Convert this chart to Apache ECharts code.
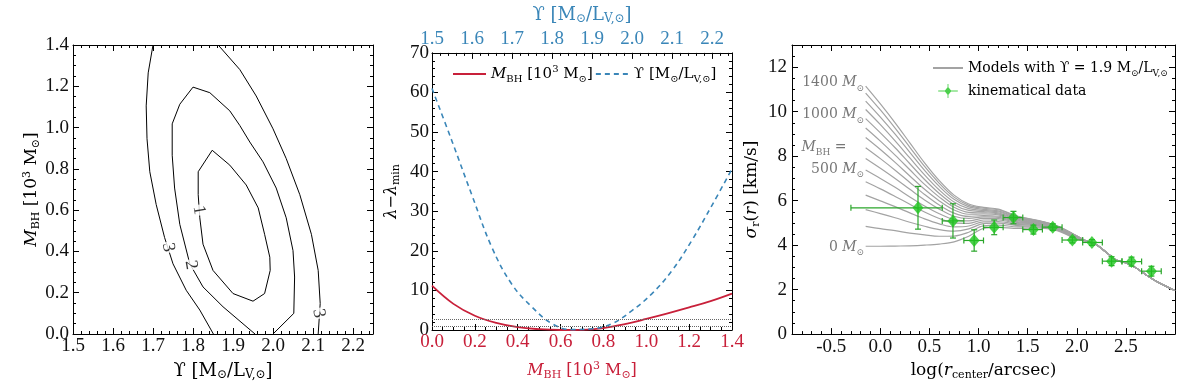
<!DOCTYPE html>
<html><head><meta charset="utf-8">
<script src="https://cdn.jsdelivr.net/npm/echarts@6/dist/echarts.min.js"></script>
<style>html,body{margin:0;padding:0;background:#fff}#c{width:1200px;height:386px}</style>
</head><body><div id="c"></div>
<script>
// ---------- Panel 1: confidence contours ----------
const c1X = [1.848,1.892,1.933,1.963,1.979,1.992,1.993,1.979,1.950,1.900,1.850,1.825,1.817,1.813,1.813,1.848];
const c1Y = [0.890,0.818,0.722,0.611,0.483,0.372,0.308,0.196,0.159,0.196,0.308,0.435,0.563,0.675,0.786,0.890];
const c2X = [1.955,1.875,1.825,1.792,1.767,1.754,1.748,1.748,1.767,1.800,1.842,1.892,1.917,1.942,1.975,2.008,2.033,2.050,2.054,2.052,2.000];
const c2Y = [0.000,0.132,0.228,0.340,0.531,0.707,0.866,1.018,1.113,1.196,1.169,1.081,1.010,0.930,0.834,0.707,0.563,0.404,0.276,0.100,0.000];
const c3aX = [1.700,1.688,1.683,1.685,1.692,1.708,1.729,1.750,1.783,1.817,1.851];
const c3aY = [1.400,1.265,1.105,0.946,0.786,0.627,0.467,0.340,0.212,0.116,0.000];
const c3bX = [1.863,1.917,1.958,2.000,2.033,2.067,2.096,2.113,2.118,2.113];
const c3bY = [1.400,1.281,1.153,0.994,0.850,0.675,0.483,0.308,0.148,0.000];
const clabelText = ['1','2','3','3'];
const clabelX = [1.815,1.795,1.738,2.114];
const clabelY = [0.600,0.335,0.420,0.100];
const p1XTicks = [1.5,1.6,1.7,1.8,1.9,2.0,2.1,2.2];
const p1YTicks = [0,0.2,0.4,0.6,0.8,1.0,1.2,1.4];

// ---------- Panel 2: lambda - lambda_min ----------
const mbhX = [0,0.1,0.2,0.3,0.4,0.5,0.6,0.7,0.8,0.9,1.0,1.1,1.2,1.3,1.4];
const lamMbh = [11.2,6.6,3.6,1.8,0.7,0.2,0.0,0.05,0.5,1.5,2.8,4.2,5.7,7.3,9.2];
const upsX = [1.50,1.55,1.60,1.65,1.70,1.75,1.80,1.85,1.90,1.95,2.00,2.05,2.10,2.15,2.20,2.25];
const lamUps = [61.0,47.7,34.0,20.8,11.5,5.8,1.6,0.1,0.3,1.6,4.9,9.2,15.0,22.7,31.5,40.7];
const refLevels = [1.0,2.71];
const p2XTicks = [0,0.2,0.4,0.6,0.8,1.0,1.2,1.4];
const p2TopTicks = [1.5,1.6,1.7,1.8,1.9,2.0,2.1,2.2];
const p2YTicks = [0,10,20,30,40,50,60,70];

// ---------- Panel 3: dispersion profiles ----------
const modelX = [-0.15,0,0.15,0.3,0.45,0.6,0.75,0.9,1.05,1.2,1.4,1.6,1.8,2.0];
const m0    = [3.95,3.95,3.96,3.97,4.00,4.05,4.15,4.40,4.75,4.80,4.75,4.78,4.65,4.27];
const m100  = [4.84,4.74,4.65,4.54,4.46,4.40,4.41,4.58,4.87,4.90,4.82,4.82,4.68,4.29];
const m200  = [5.60,5.42,5.23,5.03,4.85,4.70,4.63,4.73,4.97,4.99,4.88,4.86,4.70,4.30];
const m300  = [6.25,5.99,5.73,5.45,5.18,4.96,4.82,4.86,5.05,5.06,4.93,4.89,4.72,4.32];
const m400  = [6.85,6.53,6.19,5.84,5.49,5.20,5.00,4.98,5.13,5.13,4.97,4.92,4.74,4.33];
const m500  = [7.38,7.00,6.60,6.17,5.76,5.41,5.15,5.09,5.20,5.19,5.01,4.94,4.76,4.34];
const m600  = [7.90,7.46,7.00,6.51,6.03,5.62,5.30,5.20,5.27,5.25,5.05,4.97,4.77,4.35];
const m700  = [8.38,7.89,7.37,6.82,6.28,5.80,5.44,5.29,5.33,5.30,5.09,4.99,4.79,4.36];
const m800  = [8.84,8.30,7.72,7.11,6.51,5.99,5.58,5.39,5.40,5.36,5.12,5.01,4.80,4.37];
const m900  = [9.27,8.68,8.05,7.39,6.73,6.16,5.70,5.47,5.45,5.41,5.16,5.03,4.81,4.38];
const m1000 = [9.69,9.05,8.38,7.66,6.95,6.32,5.82,5.56,5.51,5.45,5.19,5.05,4.83,4.39];
const m1100 = [10.10,9.42,8.69,7.92,7.16,6.48,5.94,5.64,5.56,5.50,5.22,5.07,4.84,4.40];
const m1200 = [10.48,9.76,8.99,8.17,7.36,6.64,6.06,5.72,5.61,5.54,5.25,5.09,4.85,4.41];
const m1300 = [10.84,10.08,9.26,8.40,7.54,6.78,6.16,5.79,5.66,5.59,5.28,5.11,4.86,4.41];
const m1400 = [11.15,10.35,9.50,8.60,7.70,6.90,6.25,5.85,5.70,5.62,5.30,5.12,4.87,4.42];
const tailX = [2.1,2.2,2.3,2.4,2.5,2.6,2.7,2.8,2.9,3.0];
const tailY = [4.18,4.02,3.68,3.33,3.20,2.98,2.68,2.40,2.17,1.96];
const obsX   = [0.383,0.739,0.955,1.159,1.355,1.558,1.755,1.955,2.154,2.354,2.557,2.760];
const obsY   = [5.68,5.09,4.21,4.80,5.24,4.70,4.81,4.23,4.12,3.28,3.26,2.83];
const obsErr = [0.96,0.77,0.48,0.33,0.28,0.20,0.15,0.13,0.13,0.20,0.20,0.22];
const obsXLo = [-0.30,0.63,0.85,1.05,1.25,1.45,1.65,1.85,2.06,2.26,2.46,2.66];
const obsXHi = [0.63,0.85,1.05,1.25,1.45,1.65,1.85,2.06,2.26,2.46,2.66,2.86];
const annotText = ['1400 {it|M}{sub|⊙}','1000 {it|M}{sub|⊙}','{it|M}{sub|BH} =','500 {it|M}{sub|⊙}','0 {it|M}{sub|⊙}'];
const annotX = [-0.15,-0.15,-0.33,-0.15,-0.15];
const annotY = [11.3,9.86,8.4,7.42,3.9];
const p3XTicks = [-0.5,0,0.5,1.0,1.5,2.0,2.5];
const p3YTicks = [0,2,4,6,8,10,12];

// ---------- helpers ----------
const FONT = 'DejaVu Serif';
const TICKFONT = 'Liberation Serif';
const RED = '#c8203a', BLUE = '#3a86b8', GREEN = '#1fc41f', EGREEN = '#2aa62a';
function rich(size, color) {
  return {
    it: {fontStyle:'italic', fontFamily:FONT, fontSize:size, lineHeight:20, color:color},
    sub: {fontFamily:FONT, fontSize:Math.round(size*0.66), lineHeight:8, verticalAlign:'bottom', color:color},
    sup: {fontFamily:FONT, fontSize:Math.round(size*0.66), lineHeight:9, verticalAlign:'top', color:color}
  };
}
function steps(a, b, s) { const r = []; for (let k = 0; a + k*s <= b + 1e-9; k++) r.push(+(a + k*s).toFixed(4)); return r; }
const xAxes = [], yAxes = [];
function addAxes(list, grid, pos, min, max, majors, minors, lab, name) {
  const base = {type:'value', gridIndex:grid, position:pos, min:min, max:max, splitLine:{show:false}, scale:false};
  const major = Object.assign({}, base, {
    axisLine:{show:true, onZero:false, lineStyle:{color:'#000', width:1}},
    axisTick:{show:true, inside:true, length:6, customValues:majors, lineStyle:{color:'#000', width:1}},
    axisLabel: lab ? {show:true, customValues:majors, fontFamily:TICKFONT, fontSize:19, color:lab.color || '#111',
                      margin: lab.margin, formatter: lab.fmt} : {show:false}
  });
  if (name) Object.assign(major, name);
  list.push(major);
  const idx = list.length - 1;
  list.push(Object.assign({}, base, {
    axisLine:{show:false, onZero:false},
    axisTick:{show:true, inside:true, length:3, customValues:minors, lineStyle:{color:'#000', width:1}},
    axisLabel:{show:false}
  }));
  return idx;
}
const f1 = v => v.toFixed(1);
const f0 = v => String(Math.round(v));
function nameOpt(text, gap, color, size) {
  return {name:text, nameLocation:'middle', nameGap:gap,
    nameTextStyle:{fontFamily:FONT, fontSize:size||16, color:color||'#000', lineHeight:20, rich:rich(size||16, color||'#000')}};
}

// Panel 1 axes
const p1x = addAxes(xAxes, 0, 'bottom', 1.5, 2.25, p1XTicks, steps(1.5,2.25,0.02), {fmt:f1, margin:3},
  nameOpt('ϒ [M{sub|⊙}/L{sub|V,⊙}]', 27, '#000', 18));
addAxes(xAxes, 0, 'top', 1.5, 2.25, p1XTicks, steps(1.5,2.25,0.02), null);
const p1y = addAxes(yAxes, 0, 'left', 0, 1.4, p1YTicks, steps(0,1.4,0.05), {fmt:f1, margin:4},
  nameOpt('{it|M}{sub|BH} [10{sup|3} M{sub|⊙}]', 26, '#000', 17));
addAxes(yAxes, 0, 'right', 0, 1.4, p1YTicks, steps(0,1.4,0.05), null);
// Panel 2 axes
const p2x = addAxes(xAxes, 1, 'bottom', 0, 1.4, p2XTicks, steps(0,1.4,0.05), {fmt:f1, margin:3, color:RED},
  nameOpt('{it|M}{sub|BH} [10{sup|3} M{sub|⊙}]', 31, RED, 16));
const p2t = addAxes(xAxes, 1, 'top', 1.5, 2.25, p2TopTicks, steps(1.5,2.25,0.02), {fmt:f1, margin:4, color:BLUE},
  nameOpt('ϒ [M{sub|⊙}/L{sub|V,⊙}]', 23, BLUE, 18));
const p2y = addAxes(yAxes, 1, 'left', 0, 70, p2YTicks, steps(0,70,2), {fmt:f0, margin:3},
  nameOpt('{it|λ}−{it|λ}{sub|min}', 30));
addAxes(yAxes, 1, 'right', 0, 70, p2YTicks, steps(0,70,2), null);
// Panel 3 axes
const p3x = addAxes(xAxes, 2, 'bottom', -0.9, 3.0, p3XTicks, steps(-0.9,3.0,0.1), {fmt:f1, margin:3},
  nameOpt('log({it|r}{sub|center}/arcsec)', 24, '#000', 17));
addAxes(xAxes, 2, 'top', -0.9, 3.0, p3XTicks, steps(-0.9,3.0,0.1), null);
const p3y = addAxes(yAxes, 2, 'left', 0, 13, p3YTicks, steps(0,13,0.5), {fmt:f0, margin:5},
  nameOpt('{it|σ}{sub|r}({it|r}) [km/s]', 30, '#000', 17));
addAxes(yAxes, 2, 'right', 0, 13, p3YTicks, steps(0,13,0.5), null);

// ---------- series ----------
const series = [];
function contour(xs, ys) {
  series.push({type:'line', xAxisIndex:p1x, yAxisIndex:p1y, data:xs.map((x,i)=>[x,ys[i]]),
    showSymbol:false, symbol:'none', smooth:false, silent:true,
    lineStyle:{color:'#000', width:1}, z:2});
}
contour(c1X,c1Y); contour(c2X,c2Y); contour(c3aX,c3aY); contour(c3bX,c3bY);
series.push({type:'scatter', xAxisIndex:p1x, yAxisIndex:p1y, symbolSize:1, silent:true,
  itemStyle:{color:'rgba(0,0,0,0)'}, z:5,
  data: clabelX.map((x,i)=>({value:[x,clabelY[i]], label:{formatter:clabelText[i]}})),
  label:{show:true, position:'inside', rotate:-80, fontFamily:TICKFONT, fontSize:18, color:'#000',
    backgroundColor:'#fff', padding:[0,1]}});

series.push({name:'mbh', type:'line', xAxisIndex:p2x, yAxisIndex:p2y, data:mbhX.map((x,i)=>[x,lamMbh[i]]),
  showSymbol:false, symbol:'none', smooth:0.4, lineStyle:{color:RED, width:1.8}, itemStyle:{color:RED}, z:3,
  markLine:{silent:true, symbol:'none', label:{show:false},
    lineStyle:{type:'dotted', color:'#666', width:1}, data:refLevels.map(v=>({yAxis:v}))}});
series.push({name:'ups', type:'line', xAxisIndex:p2t, yAxisIndex:p2y, data:upsX.map((x,i)=>[x,lamUps[i]]),
  showSymbol:false, symbol:'none', smooth:0.4, lineStyle:{color:BLUE, width:1.6, type:[5,4]}, itemStyle:{color:BLUE}, z:3});

const models = [m0,m100,m200,m300,m400,m500,m600,m700,m800,m900,m1000,m1100,m1200,m1300,m1400];
models.forEach(m => {
  series.push({name:'models', type:'line', xAxisIndex:p3x, yAxisIndex:p3y,
    data: modelX.map((x,i)=>[x,m[i]]).concat(tailX.map((x,i)=>[x,tailY[i]])),
    showSymbol:false, symbol:'none', smooth:0.35, silent:true,
    lineStyle:{color:'#a3a3a3', width:1.2}, itemStyle:{color:'#a3a3a3'}, z:2});
});
series.push({type:'custom', xAxisIndex:p3x, yAxisIndex:p3y, silent:true, z:3,
  data: obsX.map((x,i)=>[x,obsY[i],obsErr[i],obsXLo[i],obsXHi[i]]),
  renderItem(params, api) {
    const x=api.value(0), y=api.value(1), e=api.value(2), lo=api.value(3), hi=api.value(4);
    const t=api.coord([x,y+e]), b=api.coord([x,y-e]), l=api.coord([lo,y]), r=api.coord([hi,y]);
    const cap=3, st={stroke:EGREEN, lineWidth:1.2};
    const ln=(x1,y1,x2,y2)=>({type:'line', shape:{x1,y1,x2,y2}, style:st});
    return {type:'group', children:[
      ln(t[0],t[1],b[0],b[1]), ln(t[0]-cap,t[1],t[0]+cap,t[1]), ln(b[0]-cap,b[1],b[0]+cap,b[1]),
      ln(l[0],l[1],r[0],r[1]), ln(l[0],l[1]-cap,l[0],l[1]+cap), ln(r[0],r[1]-cap,r[0],r[1]+cap)]};
  }});
series.push({name:'kin', type:'scatter', xAxisIndex:p3x, yAxisIndex:p3y, symbol:'diamond', symbolSize:[11,13],
  itemStyle:{color:GREEN}, data:obsX.map((x,i)=>[x,obsY[i]]), z:4});
series.push({type:'scatter', xAxisIndex:p3x, yAxisIndex:p3y, symbolSize:1, silent:true,
  itemStyle:{color:'rgba(0,0,0,0)'}, z:5,
  data: annotX.map((x,i)=>({value:[x,annotY[i]], label:{formatter:annotText[i]}})),
  label:{show:true, position:'left', distance:1, fontFamily:FONT, fontSize:14, color:'#555', lineHeight:20,
    rich:rich(14,'#555')}});

const kinIcon = 'path://M-9,5.4h28v1.2h-28Z M4.4,-4h1.2v20h-1.2Z M5,0L10,6L5,12L0,6Z';
const chart = echarts.init(document.getElementById('c'), null, {renderer:'canvas'});
chart.setOption({
  backgroundColor:'#fff',
  animation:false,
  textStyle:{fontFamily:FONT},
  grid:[
    {left:73, top:45, width:300, height:293},
    {left:432, top:45, width:300, height:291},
    {left:792, top:45, width:383, height:293}
  ],
  xAxis:xAxes, yAxis:yAxes,
  legend:[
    {data:[{name:'mbh', itemStyle:{opacity:0}}, {name:'ups', itemStyle:{opacity:0}}],
     left:447, top:59, itemGap:2, itemWidth:33, itemHeight:12,
     textStyle:{fontFamily:FONT, fontSize:15, color:'#000', lineHeight:20, rich:rich(15,'#000')},
     formatter: n => n==='mbh' ? '{it|M}{sub|BH} [10{sup|3} M{sub|⊙}]' : 'ϒ [M{sub|⊙}/L{sub|V,⊙}]'},
    {data:[{name:'models', itemStyle:{opacity:0}}, {name:'kin', icon:kinIcon}],
     orient:'vertical', left:927, top:53, itemGap:3, itemWidth:30, itemHeight:14,
     textStyle:{fontFamily:FONT, fontSize:14, color:'#000', lineHeight:20, rich:rich(14,'#000')},
     formatter: n => n==='models' ? 'Models with ϒ = 1.9 M{sub|⊙}/L{sub|V,⊙}' : 'kinematical data'}
  ],
  series:series
});
</script></body></html>
